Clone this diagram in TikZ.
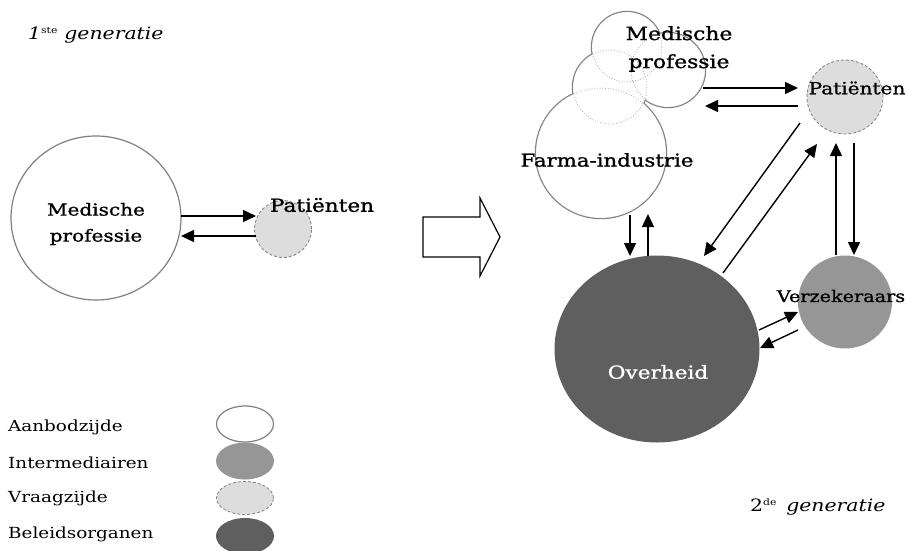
\documentclass[tikz,border=0pt]{standalone}
\usepackage{fontspec}
\setmainfont[FakeStretch=1.2]{DejaVu Serif}
\newfontfamily\lblfont[FakeStretch=1.2,FakeBold=1.2]{DejaVu Serif}
\usetikzlibrary{arrows.meta,shapes.geometric}
\definecolor{ringgray}{HTML}{808080}
\definecolor{midgray}{HTML}{969696}
\definecolor{lightgray}{HTML}{DDDDDD}
\definecolor{darkgray}{HTML}{5F5F5F}
\newcommand{\fs}[2]{\fontsize{#1}{#2}\selectfont}
\tikzset{
  lbl/.style={align=center, inner sep=0pt},
  leg/.style={font=\fs{15.3}{18}, anchor=west, inner sep=0pt},
  gen/.style={font=\fs{17}{20}, anchor=west, inner sep=0pt},
  supply/.style={ellipse, draw=ringgray, line width=1.2pt, fill=white, inner sep=0pt},
  demand/.style={ellipse, draw=ringgray, dashed, dash pattern=on 3pt off 2pt, line width=0.8pt, fill=lightgray, inner sep=0pt},
  broker/.style={ellipse, fill=midgray, inner sep=0pt},
  policy/.style={ellipse, fill=darkgray, inner sep=0pt},
  flow/.style={line width=1.4pt, -{Triangle[length=13pt,width=12pt]}},
}
\begin{document}
\begin{tikzpicture}[x=1pt,y=-1pt]
\useasboundingbox (0,0) rectangle (906,550);

% ---------- first generation ----------
\node[gen] (g1) at (28,35) {\itshape 1\textsuperscript{\upshape\fs{9}{10}ste} generatie};
\node[supply, minimum width=170pt, minimum height=164pt] (mp1) at (96,218) {};
\node[lbl, font=\lblfont\fs{16.7}{26}] (mp1t) at (96,224) {Medische\\professie};
\node[demand, minimum width=57pt, minimum height=57pt] (pa1) at (283,229) {};
\node[lbl, font=\lblfont\fs{18}{26}] (pa1t) at (322,205) {Patiënten};
\coordinate (a1s) at (181,216); \coordinate (a1e) at (256,216);
\coordinate (b1s) at (256,236); \coordinate (b1e) at (181,236);
\draw[flow] (a1s) -- (a1e);
\draw[flow] (b1s) -- (b1e);

% transition arrow
\draw[line width=1.2pt, line join=miter] (423,217) -- (480,217) -- (480,198) -- (500,237)
  -- (480,276) -- (480,257) -- (423,257) -- cycle;

% ---------- second generation ----------
% supply-side cluster: outer outline solid, overlaps dotted
\def\clusterlist{627/47/35, 668/70/37, 610/87/37, 601/153/65}
\foreach \cx/\cy/\r in \clusterlist
  \draw[ringgray, line width=2.4pt] (\cx,\cy) circle[radius=\r];
\foreach \cx/\cy/\r in \clusterlist
  \fill[white] (\cx,\cy) circle[radius=\r];
\foreach \cx/\cy/\r in \clusterlist {
  \foreach \dx/\dy/\dr in \clusterlist {
    \begin{scope}
      \clip (\dx,\dy) circle[radius=\dr];
      \draw[gray!60, line width=0.7pt, dotted] (\cx,\cy) circle[radius=\r];
    \end{scope}
  }
}
\node[circle, minimum size=74pt, inner sep=0pt] (mp2) at (668,70) {};
\node[circle, minimum size=130pt, inner sep=0pt] (fa2) at (601,153) {};
\node[lbl, font=\lblfont\fs{18.2}{28}] (mp2t) at (679,49) {Medische\\professie};
\node[lbl, font=\lblfont\fs{17.7}{26}] (fa2t) at (607,160) {Farma-industrie};

\node[demand, minimum width=76pt, minimum height=74pt] (pa2) at (845,97) {};
\node[lbl, font=\lblfont\fs{16.7}{26}] (pa2t) at (857,88) {Patiënten};

\node[policy, minimum width=205pt, minimum height=187pt] (ov) at (657,349) {};
\node[lbl, font=\lblfont\fs{18}{26}, text=white] (ovt) at (658,372) {Overheid};

\node[broker, minimum width=94pt, minimum height=93pt] (vz) at (845,302) {};
\node[lbl, font=\lblfont\fs{16}{26}] (vzt) at (841,296) {Verzekeraars};

% medical profession <-> patients
\coordinate (c1s) at (703,88);  \coordinate (c1e) at (798,88);
\coordinate (c2s) at (798,106); \coordinate (c2e) at (705,106);
\draw[flow] (c1s) -- (c1e);
\draw[flow] (c2s) -- (c2e);
% industry <-> government
\coordinate (d1s) at (630,215); \coordinate (d1e) at (630,256);
\coordinate (d2s) at (648,256); \coordinate (d2e) at (648,214);
\draw[flow] (d1s) -- (d1e);
\draw[flow] (d2s) -- (d2e);
% patients <-> government
\coordinate (e1s) at (800,123); \coordinate (e1e) at (704,256);
\coordinate (e2s) at (723,273); \coordinate (e2e) at (817,144);
\draw[flow] (e1s) -- (e1e);
\draw[flow] (e2s) -- (e2e);
% patients <-> insurers
\coordinate (f1s) at (836,255); \coordinate (f1e) at (836,143);
\coordinate (f2s) at (854,143); \coordinate (f2e) at (854,255);
\draw[flow] (f1s) -- (f1e);
\draw[flow] (f2s) -- (f2e);
% government <-> insurers
\coordinate (h1s) at (759,330); \coordinate (h1e) at (798,312);
\coordinate (h2s) at (798,330); \coordinate (h2e) at (760,348);
\draw[flow] (h1s) -- (h1e);
\draw[flow] (h2s) -- (h2e);

\node[gen] (g2) at (750,507) {2\textsuperscript{\fs{9}{10}de}\, \itshape generatie};

% ---------- legend ----------
\node[leg] (l1) at (8,427) {Aanbodzijde};
\node[leg] (l2) at (8,463) {Intermediairen};
\node[leg] (l3) at (8,498) {Vraagzijde};
\node[leg] (l4) at (8,534) {Beleidsorganen};
\node[supply, minimum width=57pt, minimum height=36pt] (k1) at (245,424) {};
\node[broker, minimum width=58pt, minimum height=37pt] (k2) at (245,461) {};
\node[demand, minimum width=57pt, minimum height=33pt] (k3) at (245,498) {};
\node[policy, minimum width=58pt, minimum height=36pt] (k4) at (245,536) {};
\end{tikzpicture}
\end{document}
